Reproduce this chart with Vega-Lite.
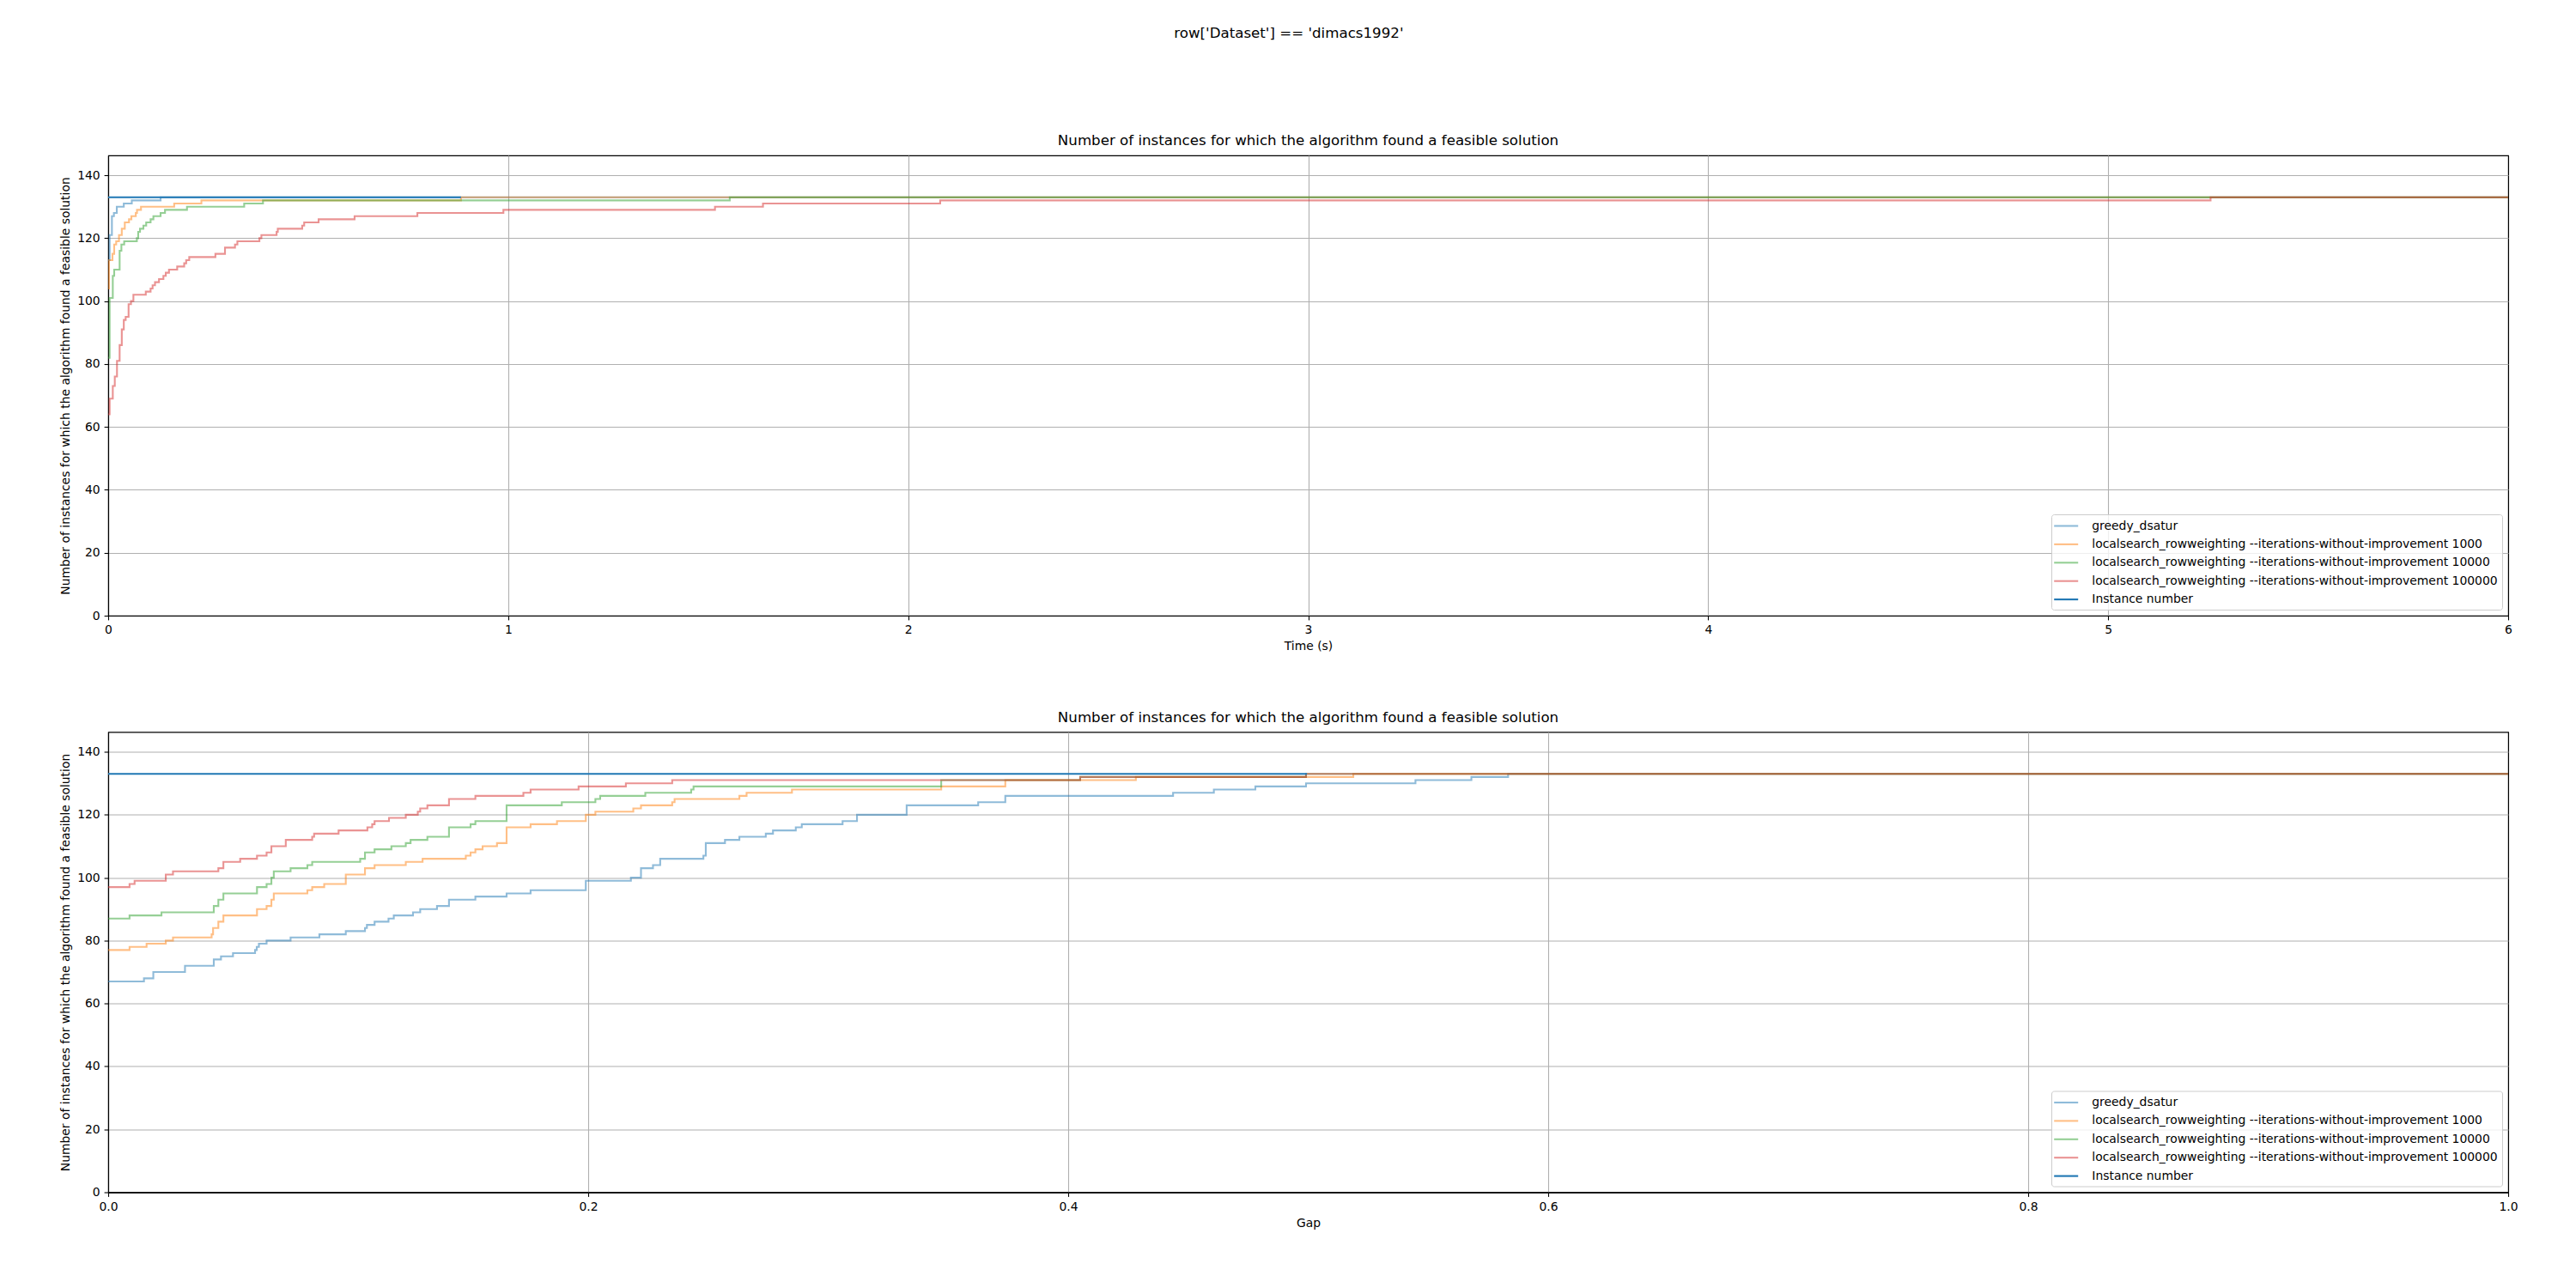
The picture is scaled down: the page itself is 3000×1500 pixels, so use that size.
{
  "$schema": "https://vega.github.io/schema/vega-lite/v6.json",
  "padding": {"left": 69, "top": 31, "right": 20, "bottom": 20},
  "background": "white",
  "title": {"text": "row['Dataset'] == 'dimacs1992'", "offset": 95, "frame": "bounds", "anchor": "middle", "baseline": "alphabetic", "fontSize": 16.67, "fontWeight": "normal", "font": "DejaVu Sans", "color": "black"},
  "spacing": 65.5,
  "resolve": {"legend": {"color": "independent"}},
  "datasets": {
    "time": [
      {"series": "greedy_dsatur", "x": 0, "y": 113},
      {"series": "greedy_dsatur", "x": 0.0036, "y": 121},
      {"series": "greedy_dsatur", "x": 0.0093, "y": 127},
      {"series": "greedy_dsatur", "x": 0.0143, "y": 128},
      {"series": "greedy_dsatur", "x": 0.0215, "y": 130},
      {"series": "greedy_dsatur", "x": 0.039, "y": 131},
      {"series": "greedy_dsatur", "x": 0.059, "y": 132},
      {"series": "greedy_dsatur", "x": 0.131, "y": 133},
      {"series": "greedy_dsatur", "x": 6, "y": 133},
      {"series": "localsearch_rowweighting --iterations-without-improvement 1000", "x": 0, "y": 104},
      {"series": "localsearch_rowweighting --iterations-without-improvement 1000", "x": 0.002, "y": 113},
      {"series": "localsearch_rowweighting --iterations-without-improvement 1000", "x": 0.0107, "y": 115},
      {"series": "localsearch_rowweighting --iterations-without-improvement 1000", "x": 0.015, "y": 118},
      {"series": "localsearch_rowweighting --iterations-without-improvement 1000", "x": 0.02, "y": 119},
      {"series": "localsearch_rowweighting --iterations-without-improvement 1000", "x": 0.027, "y": 121},
      {"series": "localsearch_rowweighting --iterations-without-improvement 1000", "x": 0.034, "y": 123},
      {"series": "localsearch_rowweighting --iterations-without-improvement 1000", "x": 0.0415, "y": 125},
      {"series": "localsearch_rowweighting --iterations-without-improvement 1000", "x": 0.052, "y": 126},
      {"series": "localsearch_rowweighting --iterations-without-improvement 1000", "x": 0.058, "y": 127},
      {"series": "localsearch_rowweighting --iterations-without-improvement 1000", "x": 0.069, "y": 128},
      {"series": "localsearch_rowweighting --iterations-without-improvement 1000", "x": 0.072, "y": 129},
      {"series": "localsearch_rowweighting --iterations-without-improvement 1000", "x": 0.082, "y": 130},
      {"series": "localsearch_rowweighting --iterations-without-improvement 1000", "x": 0.165, "y": 131},
      {"series": "localsearch_rowweighting --iterations-without-improvement 1000", "x": 0.233, "y": 132},
      {"series": "localsearch_rowweighting --iterations-without-improvement 1000", "x": 0.882, "y": 133},
      {"series": "localsearch_rowweighting --iterations-without-improvement 1000", "x": 6, "y": 133},
      {"series": "localsearch_rowweighting --iterations-without-improvement 10000", "x": 0, "y": 82},
      {"series": "localsearch_rowweighting --iterations-without-improvement 10000", "x": 0.0036, "y": 101},
      {"series": "localsearch_rowweighting --iterations-without-improvement 10000", "x": 0.0115, "y": 108},
      {"series": "localsearch_rowweighting --iterations-without-improvement 10000", "x": 0.015, "y": 110},
      {"series": "localsearch_rowweighting --iterations-without-improvement 10000", "x": 0.0286, "y": 116},
      {"series": "localsearch_rowweighting --iterations-without-improvement 10000", "x": 0.033, "y": 118},
      {"series": "localsearch_rowweighting --iterations-without-improvement 10000", "x": 0.04, "y": 119},
      {"series": "localsearch_rowweighting --iterations-without-improvement 10000", "x": 0.0716, "y": 120},
      {"series": "localsearch_rowweighting --iterations-without-improvement 10000", "x": 0.075, "y": 122},
      {"series": "localsearch_rowweighting --iterations-without-improvement 10000", "x": 0.0795, "y": 123},
      {"series": "localsearch_rowweighting --iterations-without-improvement 10000", "x": 0.088, "y": 124},
      {"series": "localsearch_rowweighting --iterations-without-improvement 10000", "x": 0.095, "y": 125},
      {"series": "localsearch_rowweighting --iterations-without-improvement 10000", "x": 0.106, "y": 126},
      {"series": "localsearch_rowweighting --iterations-without-improvement 10000", "x": 0.113, "y": 127},
      {"series": "localsearch_rowweighting --iterations-without-improvement 10000", "x": 0.131, "y": 128},
      {"series": "localsearch_rowweighting --iterations-without-improvement 10000", "x": 0.142, "y": 129},
      {"series": "localsearch_rowweighting --iterations-without-improvement 10000", "x": 0.197, "y": 130},
      {"series": "localsearch_rowweighting --iterations-without-improvement 10000", "x": 0.34, "y": 131},
      {"series": "localsearch_rowweighting --iterations-without-improvement 10000", "x": 0.387, "y": 132},
      {"series": "localsearch_rowweighting --iterations-without-improvement 10000", "x": 1.554, "y": 133},
      {"series": "localsearch_rowweighting --iterations-without-improvement 10000", "x": 6, "y": 133},
      {"series": "localsearch_rowweighting --iterations-without-improvement 100000", "x": 0, "y": 64},
      {"series": "localsearch_rowweighting --iterations-without-improvement 100000", "x": 0.0036, "y": 69},
      {"series": "localsearch_rowweighting --iterations-without-improvement 100000", "x": 0.0115, "y": 73},
      {"series": "localsearch_rowweighting --iterations-without-improvement 100000", "x": 0.0165, "y": 76},
      {"series": "localsearch_rowweighting --iterations-without-improvement 100000", "x": 0.022, "y": 81},
      {"series": "localsearch_rowweighting --iterations-without-improvement 100000", "x": 0.0286, "y": 86},
      {"series": "localsearch_rowweighting --iterations-without-improvement 100000", "x": 0.034, "y": 91},
      {"series": "localsearch_rowweighting --iterations-without-improvement 100000", "x": 0.039, "y": 94},
      {"series": "localsearch_rowweighting --iterations-without-improvement 100000", "x": 0.0437, "y": 95},
      {"series": "localsearch_rowweighting --iterations-without-improvement 100000", "x": 0.051, "y": 99},
      {"series": "localsearch_rowweighting --iterations-without-improvement 100000", "x": 0.057, "y": 100},
      {"series": "localsearch_rowweighting --iterations-without-improvement 100000", "x": 0.063, "y": 102},
      {"series": "localsearch_rowweighting --iterations-without-improvement 100000", "x": 0.094, "y": 103},
      {"series": "localsearch_rowweighting --iterations-without-improvement 100000", "x": 0.106, "y": 104},
      {"series": "localsearch_rowweighting --iterations-without-improvement 100000", "x": 0.111, "y": 105},
      {"series": "localsearch_rowweighting --iterations-without-improvement 100000", "x": 0.117, "y": 106},
      {"series": "localsearch_rowweighting --iterations-without-improvement 100000", "x": 0.127, "y": 107},
      {"series": "localsearch_rowweighting --iterations-without-improvement 100000", "x": 0.138, "y": 108},
      {"series": "localsearch_rowweighting --iterations-without-improvement 100000", "x": 0.144, "y": 109},
      {"series": "localsearch_rowweighting --iterations-without-improvement 100000", "x": 0.152, "y": 110},
      {"series": "localsearch_rowweighting --iterations-without-improvement 100000", "x": 0.1725, "y": 111},
      {"series": "localsearch_rowweighting --iterations-without-improvement 100000", "x": 0.19, "y": 112},
      {"series": "localsearch_rowweighting --iterations-without-improvement 100000", "x": 0.195, "y": 113},
      {"series": "localsearch_rowweighting --iterations-without-improvement 100000", "x": 0.2026, "y": 114},
      {"series": "localsearch_rowweighting --iterations-without-improvement 100000", "x": 0.268, "y": 115},
      {"series": "localsearch_rowweighting --iterations-without-improvement 100000", "x": 0.292, "y": 117},
      {"series": "localsearch_rowweighting --iterations-without-improvement 100000", "x": 0.317, "y": 118},
      {"series": "localsearch_rowweighting --iterations-without-improvement 100000", "x": 0.323, "y": 119},
      {"series": "localsearch_rowweighting --iterations-without-improvement 100000", "x": 0.378, "y": 120},
      {"series": "localsearch_rowweighting --iterations-without-improvement 100000", "x": 0.383, "y": 121},
      {"series": "localsearch_rowweighting --iterations-without-improvement 100000", "x": 0.421, "y": 122},
      {"series": "localsearch_rowweighting --iterations-without-improvement 100000", "x": 0.424, "y": 123},
      {"series": "localsearch_rowweighting --iterations-without-improvement 100000", "x": 0.485, "y": 124},
      {"series": "localsearch_rowweighting --iterations-without-improvement 100000", "x": 0.49, "y": 125},
      {"series": "localsearch_rowweighting --iterations-without-improvement 100000", "x": 0.526, "y": 126},
      {"series": "localsearch_rowweighting --iterations-without-improvement 100000", "x": 0.616, "y": 127},
      {"series": "localsearch_rowweighting --iterations-without-improvement 100000", "x": 0.773, "y": 128},
      {"series": "localsearch_rowweighting --iterations-without-improvement 100000", "x": 0.988, "y": 129},
      {"series": "localsearch_rowweighting --iterations-without-improvement 100000", "x": 1.517, "y": 130},
      {"series": "localsearch_rowweighting --iterations-without-improvement 100000", "x": 1.637, "y": 131},
      {"series": "localsearch_rowweighting --iterations-without-improvement 100000", "x": 2.08, "y": 132},
      {"series": "localsearch_rowweighting --iterations-without-improvement 100000", "x": 5.256, "y": 133},
      {"series": "localsearch_rowweighting --iterations-without-improvement 100000", "x": 6, "y": 133},
      {"series": "Instance number", "x": 0, "y": 133},
      {"series": "Instance number", "x": 0.882, "y": 133}
    ],
    "gap": [
      {"series": "greedy_dsatur", "x": 0, "y": 67},
      {"series": "greedy_dsatur", "x": 0.0149, "y": 68},
      {"series": "greedy_dsatur", "x": 0.0188, "y": 70},
      {"series": "greedy_dsatur", "x": 0.032, "y": 72},
      {"series": "greedy_dsatur", "x": 0.044, "y": 74},
      {"series": "greedy_dsatur", "x": 0.047, "y": 75},
      {"series": "greedy_dsatur", "x": 0.052, "y": 76},
      {"series": "greedy_dsatur", "x": 0.0612, "y": 77},
      {"series": "greedy_dsatur", "x": 0.0619, "y": 78},
      {"series": "greedy_dsatur", "x": 0.0628, "y": 79},
      {"series": "greedy_dsatur", "x": 0.066, "y": 80},
      {"series": "greedy_dsatur", "x": 0.076, "y": 81},
      {"series": "greedy_dsatur", "x": 0.088, "y": 82},
      {"series": "greedy_dsatur", "x": 0.099, "y": 83},
      {"series": "greedy_dsatur", "x": 0.107, "y": 84},
      {"series": "greedy_dsatur", "x": 0.1078, "y": 85},
      {"series": "greedy_dsatur", "x": 0.111, "y": 86},
      {"series": "greedy_dsatur", "x": 0.1168, "y": 87},
      {"series": "greedy_dsatur", "x": 0.119, "y": 88},
      {"series": "greedy_dsatur", "x": 0.127, "y": 89},
      {"series": "greedy_dsatur", "x": 0.13, "y": 90},
      {"series": "greedy_dsatur", "x": 0.137, "y": 91},
      {"series": "greedy_dsatur", "x": 0.142, "y": 93},
      {"series": "greedy_dsatur", "x": 0.153, "y": 94},
      {"series": "greedy_dsatur", "x": 0.166, "y": 95},
      {"series": "greedy_dsatur", "x": 0.176, "y": 96},
      {"series": "greedy_dsatur", "x": 0.199, "y": 99},
      {"series": "greedy_dsatur", "x": 0.2178, "y": 100},
      {"series": "greedy_dsatur", "x": 0.222, "y": 103},
      {"series": "greedy_dsatur", "x": 0.227, "y": 104},
      {"series": "greedy_dsatur", "x": 0.23, "y": 106},
      {"series": "greedy_dsatur", "x": 0.248, "y": 107},
      {"series": "greedy_dsatur", "x": 0.249, "y": 111},
      {"series": "greedy_dsatur", "x": 0.257, "y": 112},
      {"series": "greedy_dsatur", "x": 0.263, "y": 113},
      {"series": "greedy_dsatur", "x": 0.274, "y": 114},
      {"series": "greedy_dsatur", "x": 0.277, "y": 115},
      {"series": "greedy_dsatur", "x": 0.2865, "y": 116},
      {"series": "greedy_dsatur", "x": 0.289, "y": 117},
      {"series": "greedy_dsatur", "x": 0.306, "y": 118},
      {"series": "greedy_dsatur", "x": 0.312, "y": 120},
      {"series": "greedy_dsatur", "x": 0.3327, "y": 123},
      {"series": "greedy_dsatur", "x": 0.3625, "y": 124},
      {"series": "greedy_dsatur", "x": 0.3738, "y": 126},
      {"series": "greedy_dsatur", "x": 0.4437, "y": 127},
      {"series": "greedy_dsatur", "x": 0.4607, "y": 128},
      {"series": "greedy_dsatur", "x": 0.478, "y": 129},
      {"series": "greedy_dsatur", "x": 0.4991, "y": 130},
      {"series": "greedy_dsatur", "x": 0.5447, "y": 131},
      {"series": "greedy_dsatur", "x": 0.568, "y": 132},
      {"series": "greedy_dsatur", "x": 0.5833, "y": 133},
      {"series": "greedy_dsatur", "x": 1, "y": 133},
      {"series": "localsearch_rowweighting --iterations-without-improvement 1000", "x": 0, "y": 77},
      {"series": "localsearch_rowweighting --iterations-without-improvement 1000", "x": 0.0089, "y": 78},
      {"series": "localsearch_rowweighting --iterations-without-improvement 1000", "x": 0.016, "y": 79},
      {"series": "localsearch_rowweighting --iterations-without-improvement 1000", "x": 0.024, "y": 80},
      {"series": "localsearch_rowweighting --iterations-without-improvement 1000", "x": 0.027, "y": 81},
      {"series": "localsearch_rowweighting --iterations-without-improvement 1000", "x": 0.0431, "y": 82},
      {"series": "localsearch_rowweighting --iterations-without-improvement 1000", "x": 0.0437, "y": 84},
      {"series": "localsearch_rowweighting --iterations-without-improvement 1000", "x": 0.0459, "y": 86},
      {"series": "localsearch_rowweighting --iterations-without-improvement 1000", "x": 0.048, "y": 88},
      {"series": "localsearch_rowweighting --iterations-without-improvement 1000", "x": 0.062, "y": 90},
      {"series": "localsearch_rowweighting --iterations-without-improvement 1000", "x": 0.066, "y": 91},
      {"series": "localsearch_rowweighting --iterations-without-improvement 1000", "x": 0.068, "y": 93},
      {"series": "localsearch_rowweighting --iterations-without-improvement 1000", "x": 0.069, "y": 95},
      {"series": "localsearch_rowweighting --iterations-without-improvement 1000", "x": 0.083, "y": 96},
      {"series": "localsearch_rowweighting --iterations-without-improvement 1000", "x": 0.085, "y": 97},
      {"series": "localsearch_rowweighting --iterations-without-improvement 1000", "x": 0.09, "y": 98},
      {"series": "localsearch_rowweighting --iterations-without-improvement 1000", "x": 0.099, "y": 101},
      {"series": "localsearch_rowweighting --iterations-without-improvement 1000", "x": 0.107, "y": 103},
      {"series": "localsearch_rowweighting --iterations-without-improvement 1000", "x": 0.111, "y": 104},
      {"series": "localsearch_rowweighting --iterations-without-improvement 1000", "x": 0.124, "y": 105},
      {"series": "localsearch_rowweighting --iterations-without-improvement 1000", "x": 0.131, "y": 106},
      {"series": "localsearch_rowweighting --iterations-without-improvement 1000", "x": 0.149, "y": 107},
      {"series": "localsearch_rowweighting --iterations-without-improvement 1000", "x": 0.151, "y": 108},
      {"series": "localsearch_rowweighting --iterations-without-improvement 1000", "x": 0.153, "y": 109},
      {"series": "localsearch_rowweighting --iterations-without-improvement 1000", "x": 0.156, "y": 110},
      {"series": "localsearch_rowweighting --iterations-without-improvement 1000", "x": 0.162, "y": 111},
      {"series": "localsearch_rowweighting --iterations-without-improvement 1000", "x": 0.166, "y": 116},
      {"series": "localsearch_rowweighting --iterations-without-improvement 1000", "x": 0.176, "y": 117},
      {"series": "localsearch_rowweighting --iterations-without-improvement 1000", "x": 0.187, "y": 118},
      {"series": "localsearch_rowweighting --iterations-without-improvement 1000", "x": 0.199, "y": 120},
      {"series": "localsearch_rowweighting --iterations-without-improvement 1000", "x": 0.203, "y": 121},
      {"series": "localsearch_rowweighting --iterations-without-improvement 1000", "x": 0.2188, "y": 122},
      {"series": "localsearch_rowweighting --iterations-without-improvement 1000", "x": 0.222, "y": 123},
      {"series": "localsearch_rowweighting --iterations-without-improvement 1000", "x": 0.235, "y": 124},
      {"series": "localsearch_rowweighting --iterations-without-improvement 1000", "x": 0.236, "y": 125},
      {"series": "localsearch_rowweighting --iterations-without-improvement 1000", "x": 0.263, "y": 126},
      {"series": "localsearch_rowweighting --iterations-without-improvement 1000", "x": 0.266, "y": 127},
      {"series": "localsearch_rowweighting --iterations-without-improvement 1000", "x": 0.2849, "y": 128},
      {"series": "localsearch_rowweighting --iterations-without-improvement 1000", "x": 0.3471, "y": 129},
      {"series": "localsearch_rowweighting --iterations-without-improvement 1000", "x": 0.3738, "y": 131},
      {"series": "localsearch_rowweighting --iterations-without-improvement 1000", "x": 0.4282, "y": 132},
      {"series": "localsearch_rowweighting --iterations-without-improvement 1000", "x": 0.5188, "y": 133},
      {"series": "localsearch_rowweighting --iterations-without-improvement 1000", "x": 1, "y": 133},
      {"series": "localsearch_rowweighting --iterations-without-improvement 10000", "x": 0, "y": 87},
      {"series": "localsearch_rowweighting --iterations-without-improvement 10000", "x": 0.0089, "y": 88},
      {"series": "localsearch_rowweighting --iterations-without-improvement 10000", "x": 0.0222, "y": 89},
      {"series": "localsearch_rowweighting --iterations-without-improvement 10000", "x": 0.044, "y": 91},
      {"series": "localsearch_rowweighting --iterations-without-improvement 10000", "x": 0.0459, "y": 93},
      {"series": "localsearch_rowweighting --iterations-without-improvement 10000", "x": 0.048, "y": 95},
      {"series": "localsearch_rowweighting --iterations-without-improvement 10000", "x": 0.062, "y": 97},
      {"series": "localsearch_rowweighting --iterations-without-improvement 10000", "x": 0.066, "y": 98},
      {"series": "localsearch_rowweighting --iterations-without-improvement 10000", "x": 0.068, "y": 100},
      {"series": "localsearch_rowweighting --iterations-without-improvement 10000", "x": 0.069, "y": 102},
      {"series": "localsearch_rowweighting --iterations-without-improvement 10000", "x": 0.076, "y": 103},
      {"series": "localsearch_rowweighting --iterations-without-improvement 10000", "x": 0.083, "y": 104},
      {"series": "localsearch_rowweighting --iterations-without-improvement 10000", "x": 0.085, "y": 105},
      {"series": "localsearch_rowweighting --iterations-without-improvement 10000", "x": 0.105, "y": 106},
      {"series": "localsearch_rowweighting --iterations-without-improvement 10000", "x": 0.107, "y": 108},
      {"series": "localsearch_rowweighting --iterations-without-improvement 10000", "x": 0.111, "y": 109},
      {"series": "localsearch_rowweighting --iterations-without-improvement 10000", "x": 0.118, "y": 110},
      {"series": "localsearch_rowweighting --iterations-without-improvement 10000", "x": 0.124, "y": 111},
      {"series": "localsearch_rowweighting --iterations-without-improvement 10000", "x": 0.126, "y": 112},
      {"series": "localsearch_rowweighting --iterations-without-improvement 10000", "x": 0.133, "y": 113},
      {"series": "localsearch_rowweighting --iterations-without-improvement 10000", "x": 0.142, "y": 116},
      {"series": "localsearch_rowweighting --iterations-without-improvement 10000", "x": 0.151, "y": 117},
      {"series": "localsearch_rowweighting --iterations-without-improvement 10000", "x": 0.153, "y": 118},
      {"series": "localsearch_rowweighting --iterations-without-improvement 10000", "x": 0.166, "y": 123},
      {"series": "localsearch_rowweighting --iterations-without-improvement 10000", "x": 0.189, "y": 124},
      {"series": "localsearch_rowweighting --iterations-without-improvement 10000", "x": 0.203, "y": 125},
      {"series": "localsearch_rowweighting --iterations-without-improvement 10000", "x": 0.205, "y": 126},
      {"series": "localsearch_rowweighting --iterations-without-improvement 10000", "x": 0.2238, "y": 127},
      {"series": "localsearch_rowweighting --iterations-without-improvement 10000", "x": 0.2429, "y": 128},
      {"series": "localsearch_rowweighting --iterations-without-improvement 10000", "x": 0.2439, "y": 129},
      {"series": "localsearch_rowweighting --iterations-without-improvement 10000", "x": 0.3471, "y": 131},
      {"series": "localsearch_rowweighting --iterations-without-improvement 10000", "x": 0.405, "y": 132},
      {"series": "localsearch_rowweighting --iterations-without-improvement 10000", "x": 0.4991, "y": 133},
      {"series": "localsearch_rowweighting --iterations-without-improvement 10000", "x": 1, "y": 133},
      {"series": "localsearch_rowweighting --iterations-without-improvement 100000", "x": 0, "y": 97},
      {"series": "localsearch_rowweighting --iterations-without-improvement 100000", "x": 0.0089, "y": 98},
      {"series": "localsearch_rowweighting --iterations-without-improvement 100000", "x": 0.011, "y": 99},
      {"series": "localsearch_rowweighting --iterations-without-improvement 100000", "x": 0.024, "y": 101},
      {"series": "localsearch_rowweighting --iterations-without-improvement 100000", "x": 0.027, "y": 102},
      {"series": "localsearch_rowweighting --iterations-without-improvement 100000", "x": 0.0459, "y": 103},
      {"series": "localsearch_rowweighting --iterations-without-improvement 100000", "x": 0.048, "y": 105},
      {"series": "localsearch_rowweighting --iterations-without-improvement 100000", "x": 0.055, "y": 106},
      {"series": "localsearch_rowweighting --iterations-without-improvement 100000", "x": 0.062, "y": 107},
      {"series": "localsearch_rowweighting --iterations-without-improvement 100000", "x": 0.066, "y": 108},
      {"series": "localsearch_rowweighting --iterations-without-improvement 100000", "x": 0.068, "y": 110},
      {"series": "localsearch_rowweighting --iterations-without-improvement 100000", "x": 0.074, "y": 112},
      {"series": "localsearch_rowweighting --iterations-without-improvement 100000", "x": 0.085, "y": 113},
      {"series": "localsearch_rowweighting --iterations-without-improvement 100000", "x": 0.0858, "y": 114},
      {"series": "localsearch_rowweighting --iterations-without-improvement 100000", "x": 0.096, "y": 115},
      {"series": "localsearch_rowweighting --iterations-without-improvement 100000", "x": 0.108, "y": 116},
      {"series": "localsearch_rowweighting --iterations-without-improvement 100000", "x": 0.11, "y": 117},
      {"series": "localsearch_rowweighting --iterations-without-improvement 100000", "x": 0.111, "y": 118},
      {"series": "localsearch_rowweighting --iterations-without-improvement 100000", "x": 0.117, "y": 119},
      {"series": "localsearch_rowweighting --iterations-without-improvement 100000", "x": 0.124, "y": 120},
      {"series": "localsearch_rowweighting --iterations-without-improvement 100000", "x": 0.129, "y": 121},
      {"series": "localsearch_rowweighting --iterations-without-improvement 100000", "x": 0.13, "y": 122},
      {"series": "localsearch_rowweighting --iterations-without-improvement 100000", "x": 0.133, "y": 123},
      {"series": "localsearch_rowweighting --iterations-without-improvement 100000", "x": 0.142, "y": 125},
      {"series": "localsearch_rowweighting --iterations-without-improvement 100000", "x": 0.153, "y": 126},
      {"series": "localsearch_rowweighting --iterations-without-improvement 100000", "x": 0.173, "y": 127},
      {"series": "localsearch_rowweighting --iterations-without-improvement 100000", "x": 0.176, "y": 128},
      {"series": "localsearch_rowweighting --iterations-without-improvement 100000", "x": 0.196, "y": 129},
      {"series": "localsearch_rowweighting --iterations-without-improvement 100000", "x": 0.2157, "y": 130},
      {"series": "localsearch_rowweighting --iterations-without-improvement 100000", "x": 0.235, "y": 131},
      {"series": "localsearch_rowweighting --iterations-without-improvement 100000", "x": 0.405, "y": 132},
      {"series": "localsearch_rowweighting --iterations-without-improvement 100000", "x": 0.4991, "y": 133},
      {"series": "localsearch_rowweighting --iterations-without-improvement 100000", "x": 1, "y": 133},
      {"series": "Instance number", "x": 0, "y": 133},
      {"series": "Instance number", "x": 0.4995, "y": 133}
    ]
  },
  "vconcat": [
    {
      "width": 2795,
      "height": 536,
      "title": {"text": "Number of instances for which the algorithm found a feasible solution", "frame": "group", "anchor": "middle", "baseline": "alphabetic", "offset": -5},
      "data": {"name": "time"},
      "mark": {"type": "line", "interpolate": "step-after", "strokeWidth": 2.1, "clip": true},
      "encoding": {
        "x": {"field": "x", "type": "quantitative", "scale": {"domain": [0, 6], "nice": false, "zero": false},
              "axis": {"title": "Time (s)", "values": [0, 1, 2, 3, 4, 5, 6], "format": "d",
                       "gridColor": {"condition": {"test": "datum.value === 0 || datum.value === 6", "value": "black"}, "value": "#b0b0b0"}}},
        "y": {"field": "y", "type": "quantitative", "scale": {"domain": [0, 146.3], "nice": false},
              "axis": {"title": "Number of instances for which the algorithm found a feasible solution", "values": [0, 20, 40, 60, 80, 100, 120, 140],
                       "gridColor": {"condition": {"test": "datum.value === 0", "value": "black"}, "value": "#b0b0b0"}}},
        "color": {"field": "series", "type": "nominal",
                  "scale": {"domain": ["greedy_dsatur", "localsearch_rowweighting --iterations-without-improvement 1000", "localsearch_rowweighting --iterations-without-improvement 10000", "localsearch_rowweighting --iterations-without-improvement 100000", "Instance number"],
                            "range": ["rgba(31,119,180,0.5)", "rgba(255,127,14,0.5)", "rgba(44,160,44,0.5)", "rgba(214,39,40,0.5)", "#1f77b4"]},
                  "legend": {"title": null}}
      }
    },
    {
      "width": 2795,
      "height": 536,
      "title": {"text": "Number of instances for which the algorithm found a feasible solution", "frame": "group", "anchor": "middle", "baseline": "alphabetic", "offset": -5},
      "data": {"name": "gap"},
      "mark": {"type": "line", "interpolate": "step-after", "strokeWidth": 2.1, "clip": true},
      "encoding": {
        "x": {"field": "x", "type": "quantitative", "scale": {"domain": [0, 1], "nice": false, "zero": false},
              "axis": {"title": "Gap", "values": [0, 0.2, 0.4, 0.6, 0.8, 1], "format": ".1f",
                       "gridColor": {"condition": {"test": "datum.value === 0 || datum.value === 1", "value": "black"}, "value": "#b0b0b0"}}},
        "y": {"field": "y", "type": "quantitative", "scale": {"domain": [0, 146.3], "nice": false},
              "axis": {"title": "Number of instances for which the algorithm found a feasible solution", "values": [0, 20, 40, 60, 80, 100, 120, 140],
                       "gridColor": {"condition": {"test": "datum.value === 0", "value": "black"}, "value": "#b0b0b0"}}},
        "color": {"field": "series", "type": "nominal",
                  "scale": {"domain": ["greedy_dsatur", "localsearch_rowweighting --iterations-without-improvement 1000", "localsearch_rowweighting --iterations-without-improvement 10000", "localsearch_rowweighting --iterations-without-improvement 100000", "Instance number"],
                            "range": ["rgba(31,119,180,0.5)", "rgba(255,127,14,0.5)", "rgba(44,160,44,0.5)", "rgba(214,39,40,0.5)", "#1f77b4"]},
                  "legend": {"title": null}}
      }
    }
  ],
  "config": {
    "font": "DejaVu Sans",
    "view": {"stroke": "black", "strokeWidth": 1.1},
    "axis": {
      "labelFont": "DejaVu Sans", "labelFontSize": 13.9, "labelColor": "black", "labelFlush": false, "labelOverlap": false,
      "titleFont": "DejaVu Sans", "titleFontSize": 13.9, "titleFontWeight": "normal", "titleColor": "black",
      "domainColor": "black", "domainWidth": 1.1, "tickColor": "black", "tickWidth": 1.1, "tickSize": 4.9,
      "labelPadding": 4.9, "grid": true, "gridWidth": 1.1
    },
    "axisX": {"titlePadding": 5},
    "axisY": {"titlePadding": 6},
    "title": {"font": "DejaVu Sans", "fontSize": 16.67, "fontWeight": "normal", "color": "black"},
    "legend": {
      "orient": "bottom-right", "offset": 7, "padding": 5,
      "labelFont": "DejaVu Sans", "labelFontSize": 13.9, "labelColor": "black", "labelLimit": 0, "labelOffset": 21.6,
      "rowPadding": 5.4, "symbolType": "M-2,0H2", "symbolSize": 196, "symbolOffset": 3.7, "symbolStrokeWidth": 2.1,
      "strokeColor": "#cccccc", "fillColor": "rgba(255,255,255,0.8)", "cornerRadius": 3
    }
  }
}
